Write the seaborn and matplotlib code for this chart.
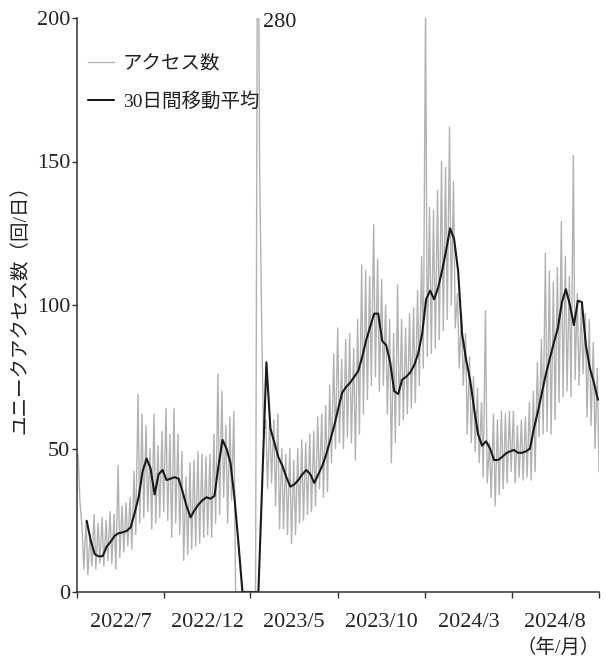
import numpy as np
import pandas as pd
import matplotlib
matplotlib.use("Agg")
import matplotlib.pyplot as plt
from matplotlib.font_manager import FontProperties
import seaborn as sns

# Daily access counts, summarised as one weekday high and one weekend low per week
# (weeks counted from 2022-05-01)
weekly_high = [
    48, 22, 25, 20, 27, 24, 26, 25, 28, 27,
    44, 30, 31, 33, 42, 69, 62, 58, 50, 62,
    51, 56, 64, 55, 64, 55, 49, 40, 45, 46,
    49, 48, 47, 48, 55, 76, 70, 58, 61, 63,
    0, 0, 0, 0, 0, 280, 90, 60, 62, 60,
    62, 50, 48, 50, 46, 50, 53, 52, 55, 56,
    61, 62, 65, 72, 83, 92, 81, 88, 90, 85,
    95, 114, 112, 110, 128, 116, 109, 100, 95, 90,
    107, 95, 92, 97, 99, 105, 117, 205, 134, 133,
    140, 150, 148, 162, 143, 104, 97, 90, 82, 75,
    71, 66, 98, 52, 62, 60, 63, 62, 63, 63,
    58, 60, 61, 66, 70, 80, 88, 118, 112, 108,
    113, 129, 117, 110, 152, 104, 100, 97, 95, 87,
    78,
]
weekly_low = [
    32, 8, 6, 9, 8, 10, 9, 11, 10, 8,
    12, 14, 16, 15, 20, 24, 26, 28, 22, 24,
    26, 28, 25, 19, 24, 20, 11, 13, 15, 16,
    17, 19, 20, 19, 24, 27, 33, 24, 32, 0,
    0, 0, 0, 0, 0, 150, 55, 36, 38, 30,
    22, 22, 20, 17, 20, 24, 25, 27, 28, 30,
    36, 33, 35, 45, 50, 52, 50, 54, 52, 46,
    55, 62, 67, 72, 75, 70, 72, 62, 45, 52,
    58, 60, 62, 64, 66, 72, 78, 82, 83, 85,
    88, 91, 95, 100, 92, 78, 72, 55, 52, 49,
    45, 40, 38, 33, 30, 34, 36, 38, 42, 38,
    40, 39, 40, 39, 42, 54, 55, 56, 55, 60,
    66, 68, 70, 68, 74, 72, 76, 61, 58, 50,
    42,
]

# 30-day moving average, one value per week starting 2022-05-18
moving_avg = [
    24.8, 18, 13.2, 12.4, 12.5, 15.8, 17.5, 19.6, 20.5, 20.8,
    21.3, 22.5, 27.5, 33, 42, 46.5, 43, 34, 41, 42.5,
    39, 39.5, 40, 39.5, 35, 30, 26, 28.5, 30.5, 32,
    33, 32.5, 33.5, 44, 53, 50, 45, 33, 17, 0,
    0, 0, 0, 0, 40, 80, 57, 52, 47, 44,
    40, 36.7, 37.5, 39, 41, 42.5, 41, 38, 41, 44,
    48, 53, 58, 64, 69.5, 71.5, 73, 75, 77, 82,
    87.8, 92.5, 97, 97, 87.5, 86, 80, 70, 69, 74,
    75, 76.5, 79, 83, 90, 102, 105, 102, 106, 112,
    119, 126.7, 123, 112, 90, 81, 74, 64, 55, 51,
    52.5, 50, 46, 46, 47, 48.3, 49, 49.5, 48.5, 48.5,
    49, 50, 57, 63, 69.5, 76, 81.5, 87, 92, 101,
    105.5, 100, 93, 101.5, 101, 86, 78, 73, 67,
]

# Five-month periods on the time axis and their labels
period_bounds = ["2022-05-01", "2022-10-01", "2023-03-01", "2023-08-01",
                 "2024-01-01", "2024-06-01", "2024-11-01"]
period_labels = ["2022/7", "2022/12", "2023/5", "2023/10", "2024/3", "2024/8"]
y_ticks = [0, 50, 100, 150, 200]
peak_text = "280"

series_names = ["アクセス数", "30日間移動平均"]
y_title = "ユニークアクセス数（回/日）"
x_unit = "（年/月）"

# ---- tidy tables ----
start = pd.Timestamp(period_bounds[0])
n_weeks = len(weekly_high)
acc_dates, acc_vals = [], []
for j in range(n_weeks):
    acc_dates += [start + pd.Timedelta(days=7 * j + 2), start + pd.Timedelta(days=7 * j + 5)]
    acc_vals += [weekly_high[j], weekly_low[j]]
access = pd.DataFrame({"date": acc_dates, "count": acc_vals})
avg = pd.DataFrame({
    "date": start + pd.to_timedelta(17 + 7 * np.arange(len(moving_avg)), unit="D"),
    "avg": moving_avg,
})

# ---- style ----
sns.set_theme(style="ticks")
mixed = ["Liberation Serif", "Noto Sans CJK JP", "DejaVu Sans"]
plt.rcParams["font.family"] = mixed
num_font = FontProperties(family=["Liberation Serif", "DejaVu Serif"], size=16)
jp_font = FontProperties(family=mixed, size=14)

fig = plt.figure(figsize=(6.06, 6.66), dpi=100)
ax = fig.add_axes([77 / 606, 1 - 592 / 666, 522 / 606, 574 / 666])

sns.lineplot(data=access, x="date", y="count", ax=ax, color="#b2b2b4",
             linewidth=1.0, label=series_names[0])
sns.lineplot(data=avg, x="date", y="avg", ax=ax, color="#1a1a1a",
             linewidth=1.5, label=series_names[1])

bounds = pd.to_datetime(period_bounds)
mids = [bounds[i] + (bounds[i + 1] - bounds[i]) / 2 for i in range(len(bounds) - 1)]
ax.set_xlim(bounds[0], bounds[-1])
ax.set_ylim(y_ticks[0], y_ticks[-1])

ax.set_xticks(bounds)
ax.set_xticklabels([""] * len(bounds))
ax.set_xticks(mids, minor=True)
ax.set_xticklabels(period_labels, minor=True, fontproperties=num_font)
ax.tick_params(axis="x", which="major", length=4.5, width=1, color="#333333", direction="out")
ax.tick_params(axis="x", which="minor", length=0, pad=15)

ax.set_yticks(y_ticks)
ax.set_yticklabels([str(v) for v in y_ticks], fontproperties=num_font)
ax.tick_params(axis="y", length=3.5, width=1, color="#333333", pad=1.5, direction="out")

for side in ["top", "right"]:
    ax.spines[side].set_visible(False)
for side in ["left", "bottom"]:
    ax.spines[side].set_color("#333333")
    ax.spines[side].set_linewidth(1.1)

ax.set_xlabel("")
ax.set_ylabel(y_title, fontproperties=jp_font, color="#222222")
ax.yaxis.set_label_coords(-0.092, 0.5)

# clipped spike label
peak_idx = int(np.argmax(access["count"].values))
ax.annotate(peak_text, xy=(access["date"].iloc[peak_idx], y_ticks[-1]),
            xytext=(3.5, -3), textcoords="offset points",
            ha="left", va="center", fontproperties=num_font,
            color="#222222", annotation_clip=False)

leg = ax.legend(loc="upper left", bbox_to_anchor=(0.021, 0.936), frameon=False,
                prop=jp_font, handlelength=1.35, handletextpad=0.45,
                labelspacing=1.0, borderaxespad=0, borderpad=0)
for t in leg.get_texts():
    t.set_color("#222222")

fig.text(600 / 606, 1 - 648 / 666, x_unit, ha="right", va="center",
         fontproperties=jp_font, color="#222222")

fig.savefig("out.png", dpi=100, facecolor="white")
